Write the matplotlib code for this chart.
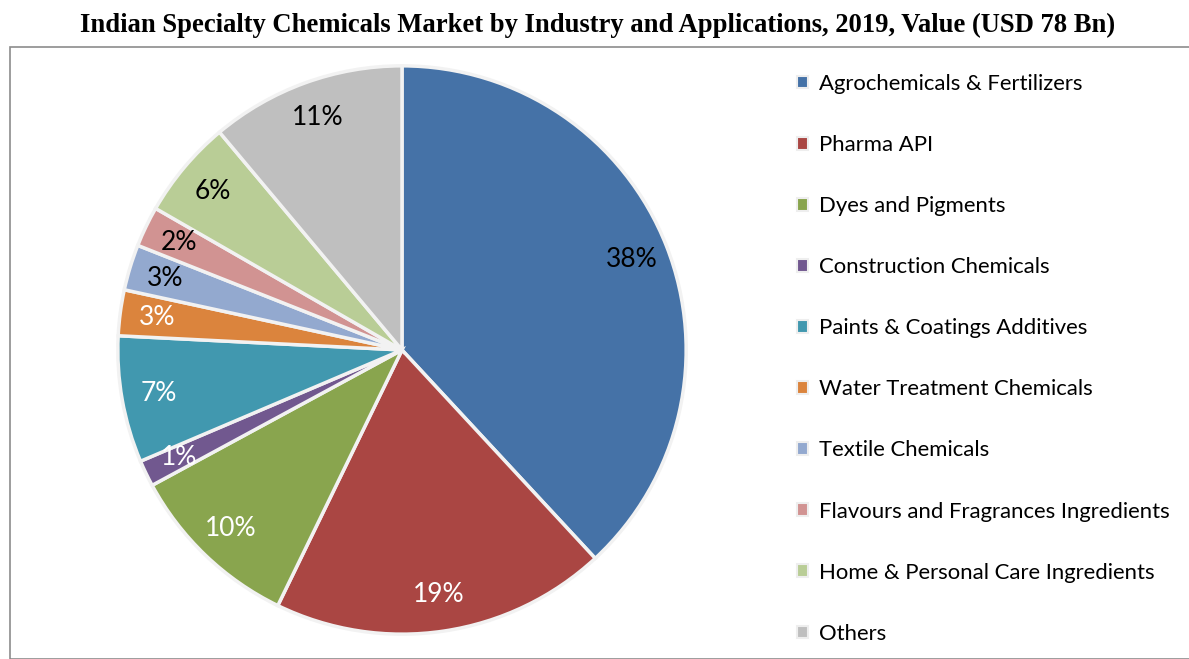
import matplotlib
matplotlib.use("Agg")
import matplotlib.pyplot as plt
import numpy as np
from matplotlib.patches import Patch, Rectangle

# segment shares (%), clockwise from 12 o'clock
segments = ["Agrochemicals & Fertilizers", "Pharma API", "Dyes and Pigments",
            "Construction Chemicals", "Paints & Coatings Additives",
            "Water Treatment Chemicals", "Textile Chemicals",
            "Flavours and Fragrances Ingredients", "Home & Personal Care Ingredients",
            "Others"]
shares = [38.1, 19.1, 9.9, 1.5, 7.2, 2.6, 2.6, 2.3, 5.6, 11.1]
pct_labels = ["38%", "19%", "10%", "1%", "7%", "3%", "3%", "2%", "6%", "11%"]

colors = ["#4572a7", "#aa4643", "#89a54e", "#71588f", "#4198af",
          "#db843d", "#93a9cf", "#d19392", "#b9cd96", "#bfbfbf"]
text_colors = ["black", "white", "white", "white", "white",
               "white", "black", "black", "black", "black"]

W, H = 1189, 659
fig = plt.figure(figsize=(W / 100, H / 100), dpi=100)

# outer chart frame
fig.patches.append(Rectangle((10 / W, 0), 1.2, (H - 47) / H, transform=fig.transFigure,
                             fill=False, edgecolor="#8c8c8c", lw=1.2))

fig.text(598 / W, 1 - 25 / H,
         "Indian Specialty Chemicals Market by Industry and Applications, 2019, Value (USD 78 Bn)",
         ha="center", va="center", fontsize=19.2, fontweight="bold", family="Liberation Serif")

cx, cy, r = 402, 350, 287
ax = fig.add_axes([(cx - r) / W, (H - cy - r) / H, 2 * r / W, 2 * r / H])
wedges, _ = ax.pie(shares, colors=colors, startangle=90, counterclock=False, radius=1,
                   wedgeprops=dict(edgecolor="#f2f2f2", linewidth=2.5))
ax.set_xlim(-1.01, 1.01)
ax.set_ylim(-1.01, 1.01)

for w, lab, tc in zip(wedges, pct_labels, text_colors):
    ang = np.deg2rad((w.theta1 + w.theta2) / 2)
    d = 0.87
    ax.text(d * np.cos(ang), d * np.sin(ang), lab, ha="center", va="center",
            fontsize=19, color=tc, family="Lato")

handles = [Patch(facecolor=c, edgecolor="#eeeeee", lw=1.5) for c in colors]
fig.legend(handles, segments, loc="upper left", bbox_to_anchor=(797 / W, 1 - 74 / H),
           frameon=False, prop=dict(family="Lato", size=15.9),
           handlelength=0.5, handleheight=0.5, handletextpad=0.5, labelspacing=1.86,
           borderaxespad=0, borderpad=0)

fig.savefig("out.png", dpi=100)
